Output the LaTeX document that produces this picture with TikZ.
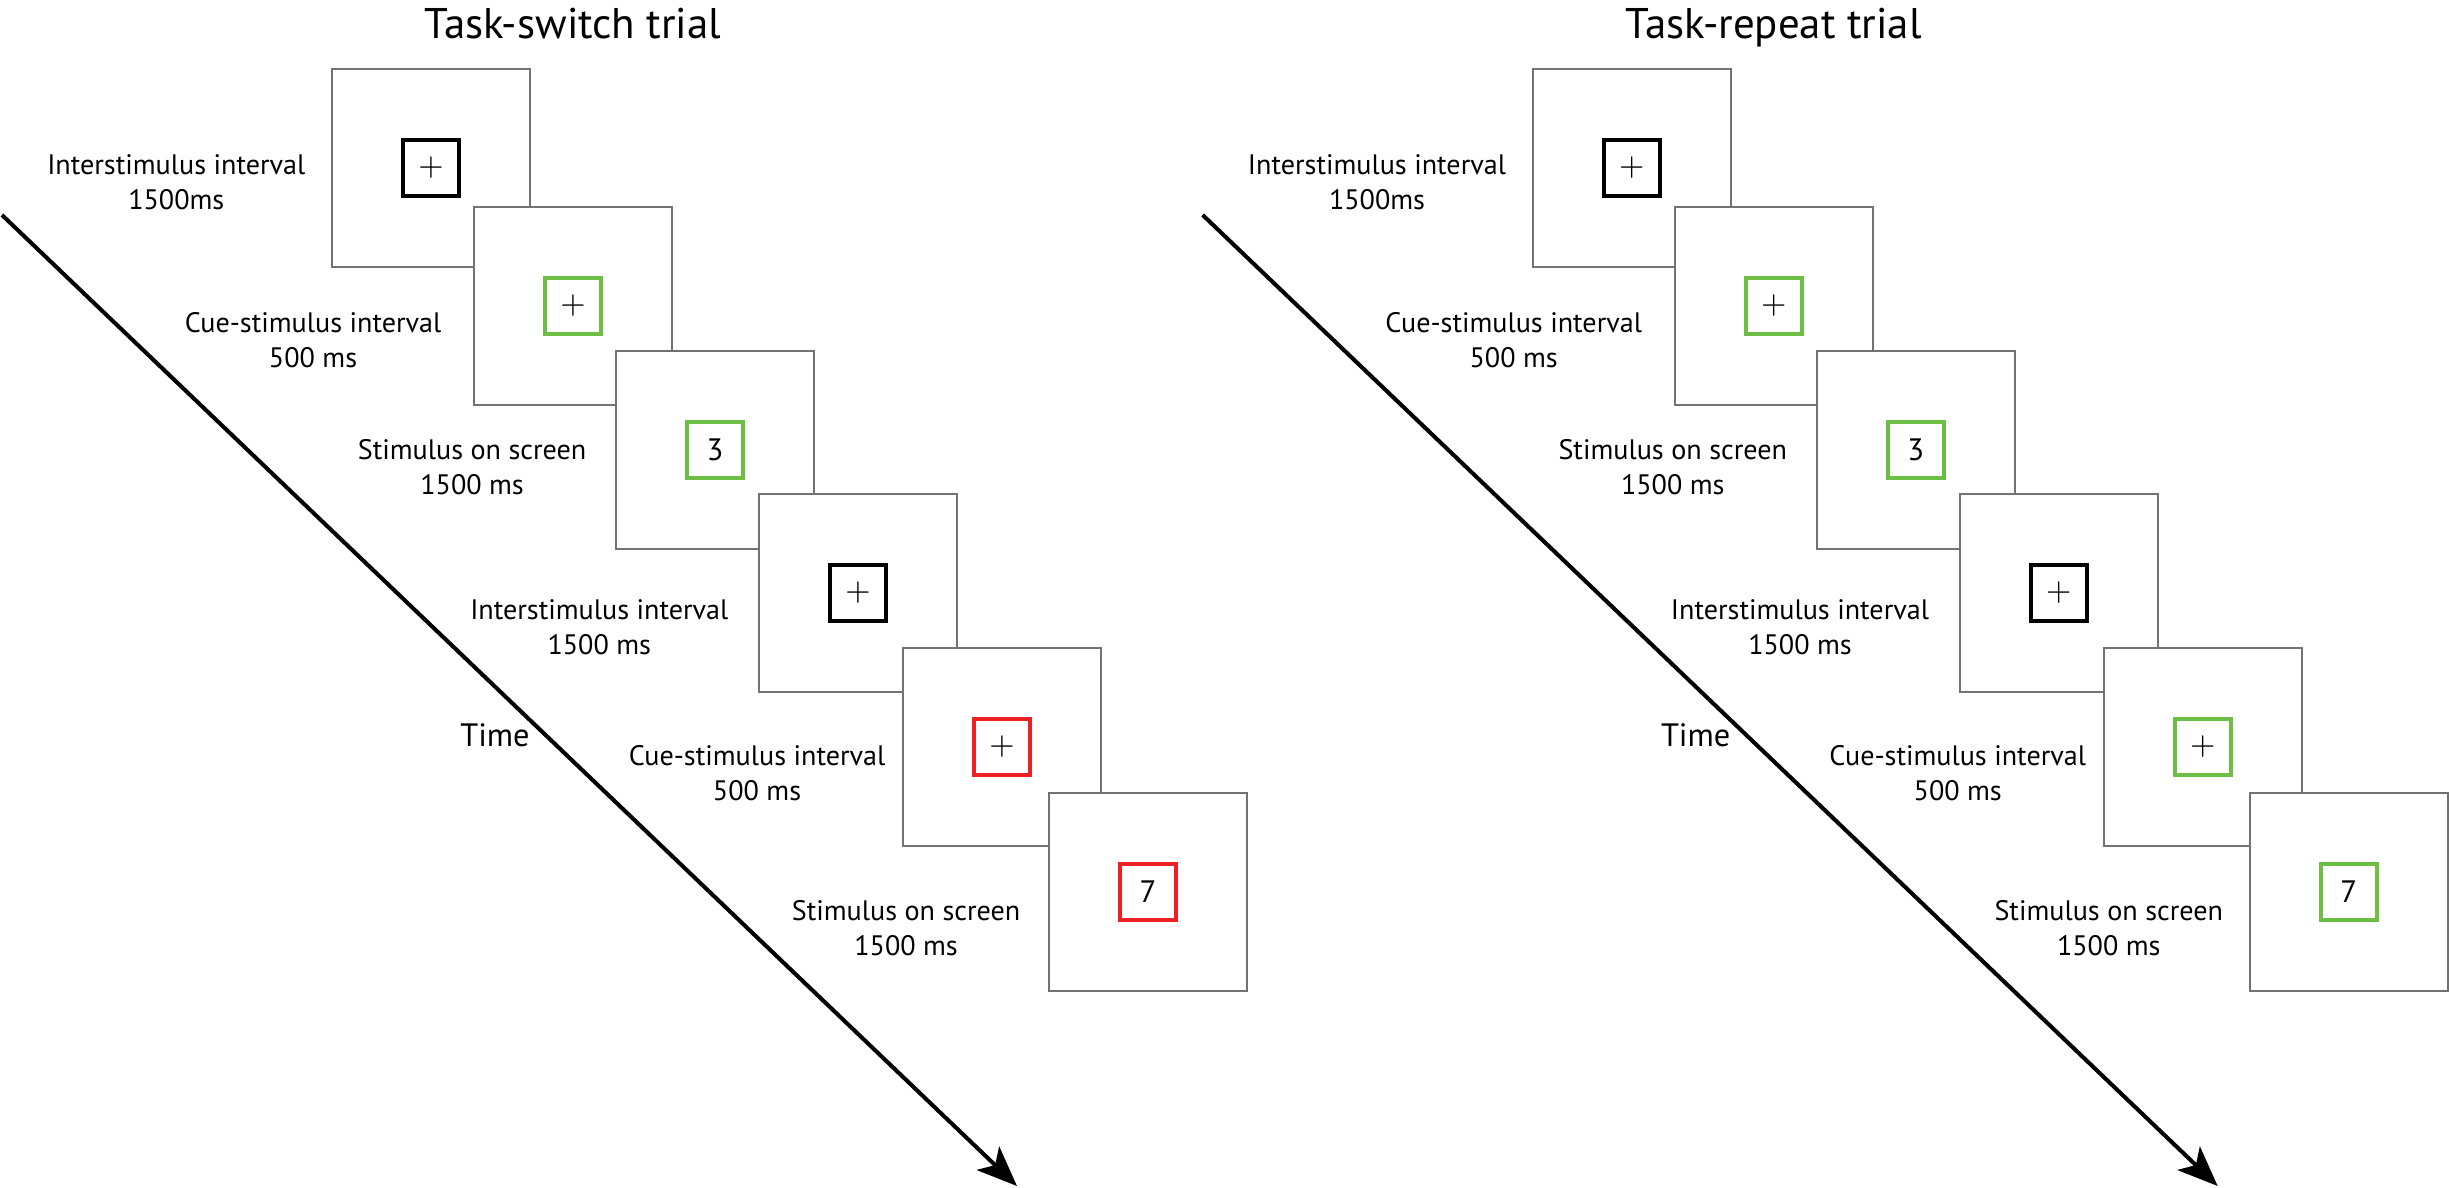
\documentclass[tikz,border=0pt]{standalone}
\usepackage{fontspec}
\setmainfont{PT Sans}
\usepackage{xcolor}
\usepackage{tikz}
\usetikzlibrary{arrows.meta,positioning}
\definecolor{cuegreen}{RGB}{109,190,69}
\definecolor{cuered}{RGB}{237,32,36}

\begin{document}
\begin{tikzpicture}[
    x=0.01cm, y=-0.01cm,
    screen/.style={draw=black!55, line width=0.5pt, fill=white, minimum size=1.98cm, inner sep=0},
    cue/.style={line width=1.15pt, minimum size=0.56cm, inner sep=0, font=\fontsize{8.8}{10}\selectfont},
    desc/.style={align=center, inner sep=0, font=\fontsize{8}{9.8}\selectfont},
    heading/.style={font=\fontsize{12.2}{14}\selectfont},
    timeline/.style={line width=1.15pt, -{Stealth[length=11.4pt, width=9.2pt, inset=2.8pt]}},
    node distance=0.25cm
]
\useasboundingbox (0,0) rectangle (2450,1187);

% task-switch trial
\node[heading, anchor=base] (h1) at (573,38) {Task-switch trial};
\coordinate (a0) at (2,215);
\coordinate (a1) at (1017,1186);
\draw[timeline] (a0) -- (a1);
\node[font=\fontsize{9.2}{11}\selectfont] (tm1) at (495,735) {Time};

\node[screen] (s1) at (431,168) {};
\node[cue, draw=black] (c1) at (s1) {$+$};
\node[desc, left=0.25cm of s1, yshift=-0.14cm] (d1) {Interstimulus interval\\1500ms};
\node[screen] (s2) at ([shift={(142,138)}]s1) {};
\node[cue, draw=cuegreen] (c2) at (s2) {$+$};
\node[desc, left=0.31cm of s2, yshift=-0.34cm] (d2) {Cue-stimulus interval\\500 ms};
\node[screen] (s3) at ([shift={(142,144)}]s2) {};
\node[cue, draw=cuegreen] (c3) at (s3) {3};
\node[desc, left=0.28cm of s3, yshift=-0.17cm] (d3) {Stimulus on screen\\1500 ms};
\node[screen] (s4) at ([shift={(143,143)}]s3) {};
\node[cue, draw=black] (c4) at (s4) {$+$};
\node[desc, left=0.29cm of s4, yshift=-0.34cm] (d4) {Interstimulus interval\\1500 ms};
\node[screen] (s5) at ([shift={(144,154)}]s4) {};
\node[cue, draw=cuered] (c5) at (s5) {$+$};
\node[desc, left=0.16cm of s5, yshift=-0.26cm] (d5) {Cue-stimulus interval\\500 ms};
\node[screen] (s6) at ([shift={(146,145)}]s5) {};
\node[cue, draw=cuered] (c6) at (s6) {7};
\node[desc, left=0.27cm of s6, yshift=-0.36cm] (d6) {Stimulus on screen\\1500 ms};

% task-repeat trial
\begin{scope}[xshift=12cm]
\node[heading, anchor=base] (h2) at (573,38) {Task-repeat trial};
\coordinate (b0) at (2,215);
\coordinate (b1) at (1017,1186);
\draw[timeline] (b0) -- (b1);
\node[font=\fontsize{9.2}{11}\selectfont] (tm2) at (495,735) {Time};

\node[screen] (r1) at (431,168) {};
\node[cue, draw=black] (e1) at (r1) {$+$};
\node[desc, left=0.25cm of r1, yshift=-0.14cm] (f1) {Interstimulus interval\\1500ms};
\node[screen] (r2) at ([shift={(142,138)}]r1) {};
\node[cue, draw=cuegreen] (e2) at (r2) {$+$};
\node[desc, left=0.31cm of r2, yshift=-0.34cm] (f2) {Cue-stimulus interval\\500 ms};
\node[screen] (r3) at ([shift={(142,144)}]r2) {};
\node[cue, draw=cuegreen] (e3) at (r3) {3};
\node[desc, left=0.28cm of r3, yshift=-0.17cm] (f3) {Stimulus on screen\\1500 ms};
\node[screen] (r4) at ([shift={(143,143)}]r3) {};
\node[cue, draw=black] (e4) at (r4) {$+$};
\node[desc, left=0.29cm of r4, yshift=-0.34cm] (f4) {Interstimulus interval\\1500 ms};
\node[screen] (r5) at ([shift={(144,154)}]r4) {};
\node[cue, draw=cuegreen] (e5) at (r5) {$+$};
\node[desc, left=0.16cm of r5, yshift=-0.26cm] (f5) {Cue-stimulus interval\\500 ms};
\node[screen] (r6) at ([shift={(146,145)}]r5) {};
\node[cue, draw=cuegreen] (e6) at (r6) {7};
\node[desc, left=0.25cm of r6, yshift=-0.36cm] (f6) {Stimulus on screen\\1500 ms};
\end{scope}
\end{tikzpicture}
\end{document}
